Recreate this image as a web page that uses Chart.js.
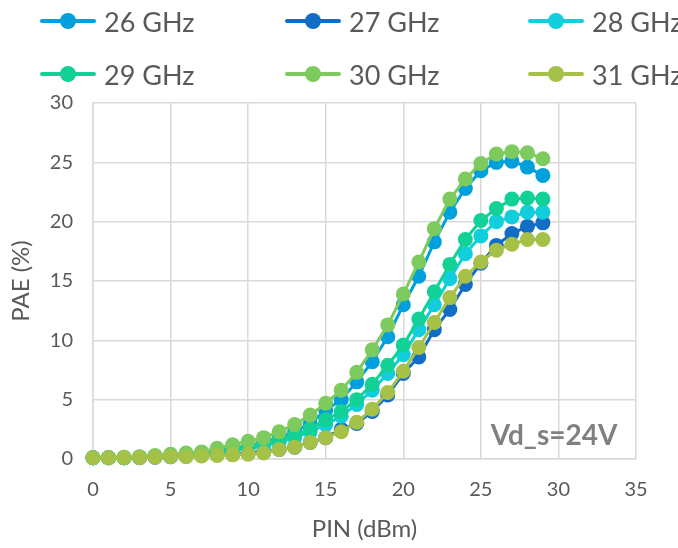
<!DOCTYPE html>
<html>
<head>
<meta charset="utf-8">
<script src="https://cdn.jsdelivr.net/npm/chart.js@4"></script>
<style>
  html, body { margin:0; padding:0; background:#fff; }
  #wrap { position:relative; width:678px; height:548px; }
  #legend { position:absolute; left:0; top:0; width:678px; height:100px; font-family:Lato, sans-serif; color:#595959; }
  .lg { position:absolute; height:30px; display:flex; align-items:center; white-space:nowrap; font-size:27px; }
  .lg .sym { position:relative; width:56px; height:30px; margin-right:8px; }
  .lg .sym i { position:absolute; left:0; right:0; top:13px; height:4px; border-radius:2px; }
  .lg .sym b { position:absolute; left:20px; top:7px; width:16px; height:16px; border-radius:50%; }
</style>
</head>
<body>
<div id="wrap">
  <canvas id="c" width="678" height="548"></canvas>
  <div id="legend"></div>
</div>
<script>
/* ── data ── */
const PIN = [0,1,2,3,4,5,6,7,8,9,10,11,12,13,14,15,16,17,18,19,20,21,22,23,24,25,26,27,28,29];
const SERIES_NAMES = ['26 GHz','27 GHz','28 GHz','29 GHz','30 GHz','31 GHz'];
const PAE_26 = [0.1,0.1,0.1,0.15,0.2,0.3,0.4,0.5,0.7,0.9,1.1,1.4,1.8,2.3,3.0,4.1,5.0,6.5,8.2,10.3,13.0,15.4,18.3,20.8,22.8,24.3,25.0,25.1,24.6,23.9];
const PAE_27 = [0.1,0.1,0.1,0.1,0.15,0.2,0.25,0.3,0.35,0.4,0.5,0.6,0.8,1.0,1.4,1.8,2.5,3.0,4.0,5.4,7.2,8.6,10.9,12.6,14.7,16.5,18.0,19.0,19.6,19.9];
const PAE_28 = [0.1,0.1,0.1,0.15,0.2,0.25,0.3,0.4,0.5,0.7,0.9,1.1,1.4,1.8,2.3,2.9,3.6,4.6,5.8,7.2,8.8,10.9,13.0,15.2,17.3,18.8,20.0,20.4,20.8,20.8];
const PAE_29 = [0.1,0.1,0.1,0.15,0.2,0.3,0.35,0.45,0.6,0.8,1.0,1.3,1.6,2.0,2.5,3.3,4.0,5.0,6.3,7.9,9.6,11.8,14.1,16.4,18.5,20.1,21.1,21.9,22.0,21.9];
const PAE_30 = [0.1,0.1,0.15,0.2,0.3,0.4,0.5,0.6,0.9,1.2,1.5,1.8,2.3,2.9,3.7,4.7,5.8,7.3,9.2,11.3,13.9,16.6,19.4,21.9,23.6,24.9,25.7,25.9,25.8,25.3];
const PAE_31 = [0.1,0.1,0.1,0.1,0.15,0.2,0.2,0.25,0.3,0.35,0.4,0.5,0.8,1.0,1.4,1.8,2.3,3.1,4.2,5.6,7.4,9.4,11.5,13.6,15.4,16.6,17.6,18.1,18.5,18.5];
const X_TICKS = [0,5,10,15,20,25,30,35];
const Y_TICKS = [0,5,10,15,20,25,30];

const COLORS = ['#00A0DC','#116DC6','#12CEDC','#12D196','#7DCB5E','#A5C148'];
const ALL = [PAE_26, PAE_27, PAE_28, PAE_29, PAE_30, PAE_31];

/* ── legend (html) ── */
const LEG_POS = [[40,6],[285,6],[528,6],[40,59],[285,59],[528,59]];
document.getElementById('legend').innerHTML = SERIES_NAMES.map((n,i) => `
  <div class="lg" style="left:${LEG_POS[i][0]}px;top:${LEG_POS[i][1]}px">
    <span class="sym"><i style="background:${COLORS[i]}"></i><b style="background:${COLORS[i]}"></b></span>${n}
  </div>`).join('');

/* ── chart ── */
const TXT = '#595959', GRID = '#d9d9d9';

new Chart(document.getElementById('c').getContext('2d'), {
  type: 'line',
  data: {
    datasets: ALL.map((arr, i) => ({
      label: SERIES_NAMES[i],
      data: PIN.map((x, k) => ({ x, y: arr[k] })),
      borderColor: COLORS[i],
      backgroundColor: COLORS[i],
      borderWidth: 3,
      pointRadius: 7.5,
      pointBorderWidth: 0,
      pointHoverRadius: 7.5,
      clip: false,
      order: ALL.length - i,
    }))
  },
  options: {
    responsive: false,
    animation: false,
    events: [],
    layout: { padding: { top: 103, right: 42, left: 0, bottom: 0 } },
    plugins: { legend: { display: false }, tooltip: { enabled: false } },
    scales: {
      x: {
        type: 'linear', min: 0, max: 35,
        afterBuildTicks: s => { s.ticks = X_TICKS.map(v => ({ value: v })); },
        afterFit: s => { s.height = 89; },
        grid: { color: GRID, lineWidth: 1.5, drawTicks: false },
        border: { color: GRID, width: 1.5 },
        ticks: { color: TXT, font: { family: 'Lato', size: 20 }, padding: 19, maxRotation: 0 },
        title: { display: true, text: 'PIN (dBm)', color: TXT, font: { family: 'Lato', size: 24 }, padding: { top: 0, bottom: 4 } }
      },
      y: {
        type: 'linear', min: 0, max: 30,
        afterBuildTicks: s => { s.ticks = Y_TICKS.map(v => ({ value: v })); },
        afterFit: s => { s.width = 93; },
        grid: { color: GRID, lineWidth: 1.5, drawTicks: false },
        border: { color: GRID, width: 1.5 },
        ticks: { color: TXT, font: { family: 'Lato', size: 20 }, padding: 20 },
        title: { display: true, text: 'PAE (%)', color: TXT, font: { family: 'Lato', size: 24 }, padding: { top: 7, bottom: 0 } }
      }
    }
  },
  plugins: [{
    id: 'note',
    afterDraw(chart) {
      const { ctx, scales: { x, y } } = chart;
      ctx.save();
      ctx.font = 'bold 28px Lato';
      ctx.fillStyle = '#808080';
      ctx.textAlign = 'right';
      ctx.textBaseline = 'alphabetic';
      ctx.fillText('Vd_s=24V', x.getPixelForValue(33.8), y.getPixelForValue(1.2));
      ctx.restore();
    }
  }]
});
</script>
</body>
</html>
